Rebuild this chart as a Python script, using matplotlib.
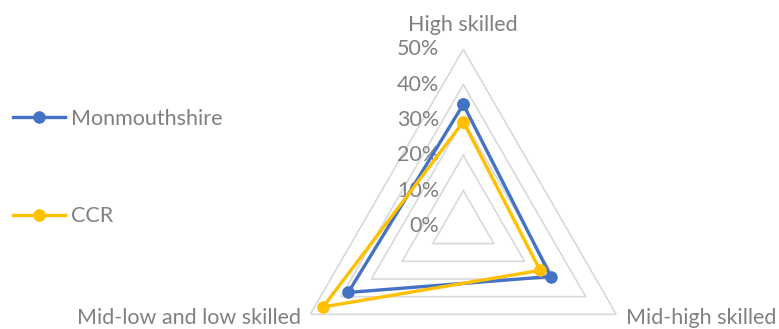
import numpy as np
import matplotlib
matplotlib.use('Agg')
import matplotlib.pyplot as plt
from matplotlib.transforms import offset_copy

# Skill level shares
categorias = ['High skilled', 'Mid-high skilled', 'Mid-low and low skilled']
monmouthshire = [0.344, 0.286, 0.376]
ccr = [0.295, 0.251, 0.458]
niveis = [0.0, 0.1, 0.2, 0.3, 0.4, 0.5]
niveis_labels = ['0%', '10%', '20%', '30%', '40%', '50%']

plt.rcParams['font.family'] = ['Lato', 'DejaVu Sans']
cinza = '#808080'
fs = 15.5

fig = plt.figure(figsize=(7.79, 3.29), dpi=100)
W, H = 779, 329
cx, cy, raio = 463.3, 226, 176.7
ax = fig.add_axes([(cx - raio) / W, (H - cy - raio) / H, 2 * raio / W, 2 * raio / H],
                  projection='polar')
ax.set_theta_offset(np.pi / 2)
ax.set_theta_direction(-1)
ax.set_ylim(0, 0.5)
ax.grid(False)
ax.spines['polar'].set_visible(False)
ax.set_xticks([])
ax.set_yticks([])
ax.patch.set_alpha(0)

angulos = np.linspace(0, 2 * np.pi, len(categorias), endpoint=False)
angulos_fech = np.append(angulos, angulos[0])

# grade triangular
for r in niveis[1:]:
    ax.plot(angulos_fech, [r] * len(angulos_fech), color='#d9d9d9', linewidth=1.2, zorder=1)

# rotulos do eixo radial
trans = offset_copy(ax.transData, fig=fig, x=-24, y=0, units='dots')
for r, lab in zip(niveis, niveis_labels):
    ax.text(0, r, lab, transform=trans, ha='right', va='center', fontsize=fs,
            color=cinza, zorder=2)

# rotulos das categorias
ax.text(0, 0.5, categorias[0], transform=offset_copy(ax.transData, fig=fig, x=0, y=14, units='dots'),
        ha='center', va='bottom', fontsize=fs, color=cinza)
ax.text(angulos[1], 0.5, categorias[1], transform=offset_copy(ax.transData, fig=fig, x=10, y=-4, units='dots'),
        ha='left', va='center', fontsize=fs, color=cinza, clip_on=False)
ax.text(angulos[2], 0.5, categorias[2], transform=offset_copy(ax.transData, fig=fig, x=-9, y=-4, units='dots'),
        ha='right', va='center', fontsize=fs, color=cinza, clip_on=False)

ax.plot(angulos_fech, monmouthshire + monmouthshire[:1], color='#4472C4', linewidth=2.4,
        marker='o', markersize=8, label='Monmouthshire', zorder=3, clip_on=False)
ax.plot(angulos_fech, ccr + ccr[:1], color='#FFC000', linewidth=2.4,
        marker='o', markersize=8, label='CCR', zorder=4, clip_on=False)

leg = fig.legend(loc='upper left', bbox_to_anchor=(13 / W, 1 - 109 / H), frameon=False,
                 fontsize=fs, handlelength=2.4, handletextpad=0.28, labelspacing=3.6,
                 borderaxespad=0, borderpad=0)
for t in leg.get_texts():
    t.set_color(cinza)

fig.savefig('out.png', dpi=100)
